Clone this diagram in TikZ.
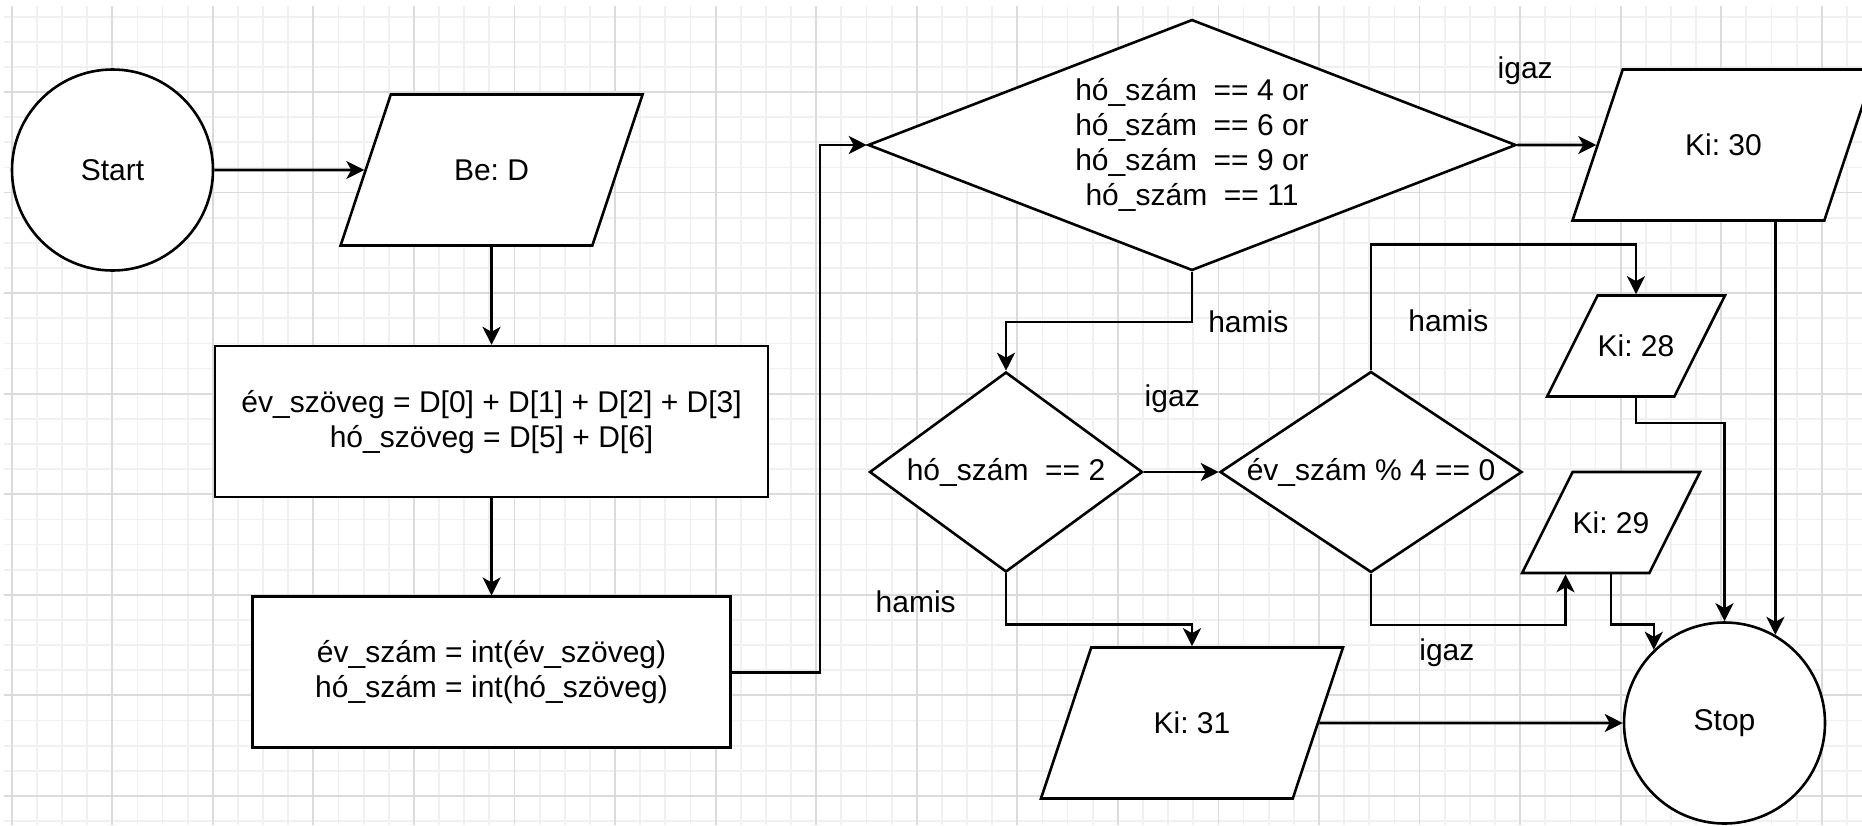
\documentclass[tikz,border=0pt]{standalone}
\usepackage{fontspec}
\setsansfont{Liberation Sans}
\usepackage{tikz}
\usetikzlibrary{
  shapes.geometric, % trapezium, diamond
  arrows.meta,
  positioning,      % right=of, below=of
  calc,
}
\def\mylw{2.6pt}
\def\mycell{25.14}
\tikzset{
  font=\sffamily\fontsize{30}{35}\selectfont,
  >={Stealth[length=18pt,width=18pt,inset=5pt]},
  my terminal/.style={
    draw,
    fill=white,
    circle,
    minimum size=201pt,
    inner sep=0pt
  },
  my io/.style={
    draw,
    fill=white,
    trapezium,
    trapezium left angle=71.6,
    trapezium right angle=108.4,
    trapezium stretches body,
    minimum width=302pt,
    text height=21pt,
    text depth=0pt,
    inner xsep=0pt,
    inner ysep=65pt
  },
  my io small/.style={
    my io,
    trapezium left angle=63.4,
    trapezium right angle=116.6,
    minimum width=176pt,
    inner ysep=40pt
  },
  my process/.style={
    draw,
    fill=white,
    rectangle,
    align=center,
    minimum height=151pt,
    inner sep=0pt
  },
  my decision/.style={
    draw,
    fill=white,
    diamond,
    inner sep=0pt
  },
  my label/.style={
    inner sep=0pt
  },
  grid minor/.style={
    draw=black!6,
    line width=1.8pt
  },
  grid major/.style={
    draw=black!14,
    line width=1.8pt
  }
}

\begin{document}
\frenchspacing
\begin{tikzpicture}[x=1pt,y=-1pt,line width=\mylw]
\fill[white] (0,0) rectangle (1862,825);
\useasboundingbox (0,0) rectangle (1862,825);
% background grid
\foreach \i in {0,...,73}
  \draw[grid minor] ({11.7+\mycell*\i},6) -- ({11.7+\mycell*\i},825);
\foreach \j in {0,...,32}
  \draw[grid minor] (4,{16.6+\mycell*\j}) -- (1862,{16.6+\mycell*\j});
\foreach \i in {0,...,18}
  \draw[grid major] ({11.7+4*\mycell*\i},6) -- ({11.7+4*\mycell*\i},825);
\foreach \j in {0,...,7}
  \draw[grid major] (4,{92+4*\mycell*\j}) -- (1862,{92+4*\mycell*\j});

% left column
\node[my terminal] (start) at (112.5,170) {Start};
\node[my io]       (be)     [right=150pt of start] {Be: D};
\node[my process,minimum width=553pt] (szoveg) [below=98pt of be]
  {év\_szöveg = D[0] + D[1] + D[2] + D[3]\\hó\_szöveg = D[5] + D[6]};
\node[my process,minimum width=478pt] (szam)   [below=97pt of szoveg]
  {év\_szám = int(év\_szöveg)\\hó\_szám = int(hó\_szöveg)};

% decisions
\node[my decision,minimum width=648pt,minimum height=251pt,
  label={[align=center]center:{hó\_szám\ \ == 4 or\\hó\_szám\ \ == 6 or\\hó\_szám\ \ == 9 or\\hó\_szám\ \ == 11}}]
  (harminc) at (1192,145) {};
\node[my decision,minimum width=273pt,minimum height=200pt,
  label={center:{hó\_szám\ \ == 2}}]
  (feb) at (1006,472) {};
\node[my decision,minimum width=302pt,minimum height=201pt,
  label={center:{év\_szám \% 4 == 0}}]
  (szoko) at (1371,472) {};

% outputs
\node[my io]       (ki30) at (1723.5,145) {Ki: 30};
\node[my io small] (ki28) at (1636,346)   {Ki: 28};
\node[my io small] (ki29) at (1611,522.5) {Ki: 29};
\node[my io]       (ki31) at (1192,723)   {Ki: 31};
\node[my terminal] (stop) at (1724.5,723) {Stop};

% connectors
\draw[->] (start) -- (be);
\draw[->] (be.south) -- (be.south |- szoveg.north);
\draw[->] (szoveg.south) -- (szoveg.south |- szam.north);
\draw[->] (szam.east) -- ++(88,0) |- (harminc.west);
\draw[->] (harminc.east) -- node[my label,pos=0.1,above=59pt]{igaz} (ki30.west);
\draw[->] (harminc.south) -- ++(0,50) node[my label,right=15pt]{hamis} -| (feb.north);
\draw[->] (feb.east) -- node[my label,above=58pt,xshift=-9pt]{igaz} (szoko.west);
\draw[->] (szoko.north) -- node[my label,pos=0.39,right=36pt]{hamis} ++(0,-126) -| (ki28.north);
\draw[->] (szoko.south) -- ++(0,51)
  -| node[my label,pos=0.195,below=13pt]{igaz} ($(ki29.bottom left corner)!0.5!(ki29.south)$);
\draw[->] (feb.south) -- node[my label,pos=0.55,left=49pt]{hamis} ++(0,51) -| (ki31.north);
\draw[->] (ki30.south -| stop.60) -- (stop.60);
\draw[->] (ki28.south) -- ++(0,25) -| (stop.north);
\draw[->] (ki29.south) -- ++(0,50) -| (stop.134);
\draw[->] (ki31) -- (stop);
\end{tikzpicture}
\end{document}
